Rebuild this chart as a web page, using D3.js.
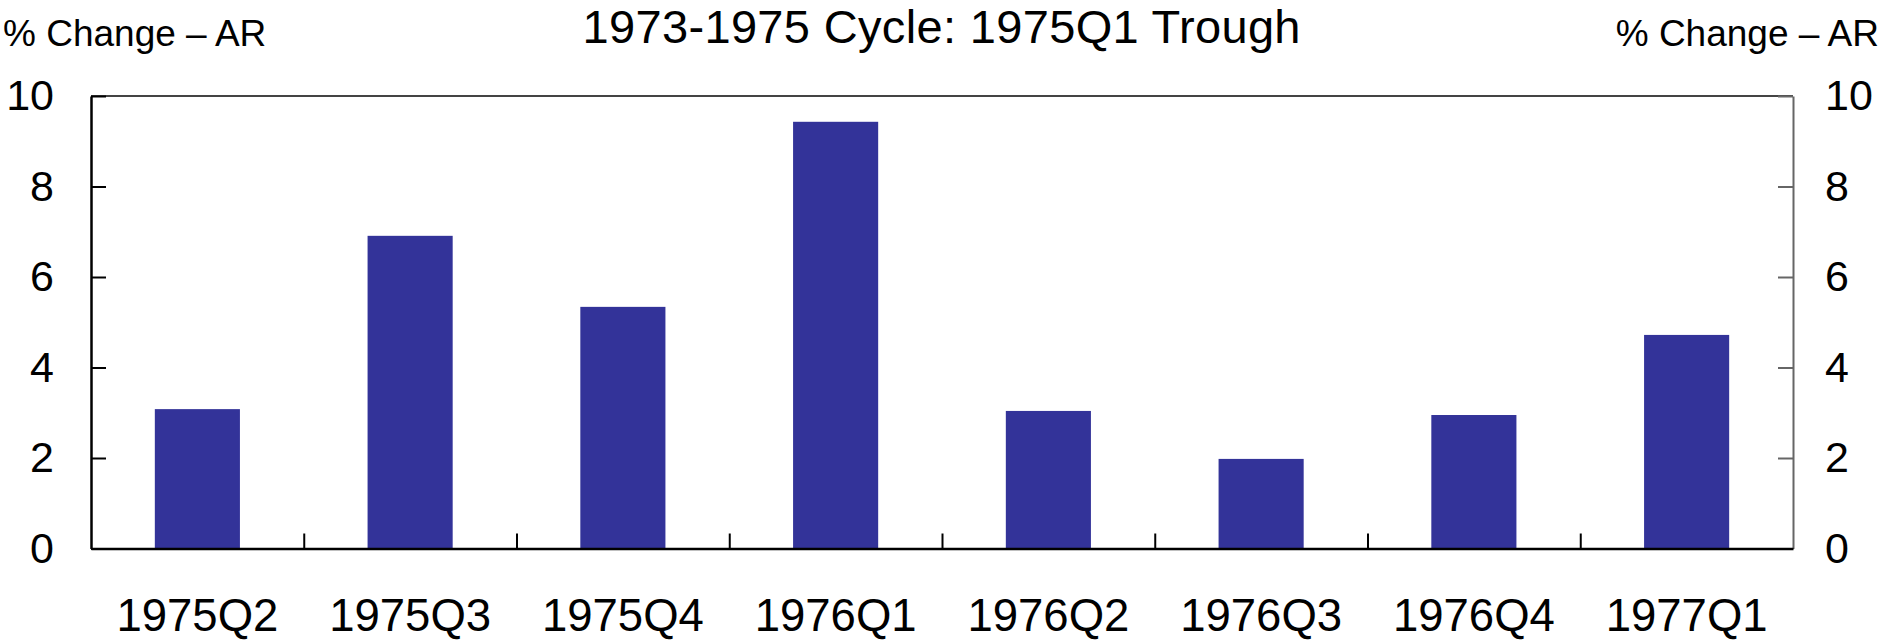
<!DOCTYPE html>
<html lang="en">
  <head>
    <meta charset="UTF-8" />
    <title>1973-1975 Cycle</title>
    <script src="https://d3js.org/d3.v7.min.js" charset="utf-8"></script>
    <style>
      body { margin: 0; background: #fff; }
      text { font-family: "Liberation Sans", Arial, sans-serif; fill: #000; }
    </style>
  </head>
  <body>
    <div id="chart"></div>
    <script>
      // data
      const quarters = ["1975Q2", "1975Q3", "1975Q4", "1976Q1", "1976Q2", "1976Q3", "1976Q4", "1977Q1"];
      const growth = [3.08, 6.91, 5.34, 9.43, 3.04, 1.98, 2.95, 4.72];
      const yTicks = [0, 2, 4, 6, 8, 10];

      const width = 1883;
      const height = 641;
      const plotLeft = 91, plotRight = 1793, plotTop = 96, plotBottom = 548.5;

      const svg = d3.select("#chart")
        .append("svg")
        .attr("width", width)
        .attr("height", height);

      const x = d3.scaleBand()
        .domain(quarters)
        .range([plotLeft, plotRight])
        .paddingInner(0.6)
        .paddingOuter(0.3);

      const xEdge = d3.scaleLinear()
        .domain([0, quarters.length])
        .range([plotLeft, plotRight]);

      const y = d3.scaleLinear()
        .domain([0, 10])
        .range([plotBottom, plotTop]);

      // bars
      svg.append("g")
        .selectAll("rect")
        .data(growth)
        .join("rect")
        .attr("x", (d, i) => x(quarters[i]))
        .attr("width", x.bandwidth())
        .attr("y", d => y(d))
        .attr("height", d => y(0) - y(d))
        .attr("fill", "#333399");

      // top frame line
      svg.append("line")
        .attr("x1", plotLeft).attr("x2", plotRight)
        .attr("y1", plotTop).attr("y2", plotTop)
        .attr("stroke", "#444")
        .attr("stroke-width", 2);

      // right axis (grey)
      const rAxis = svg.append("g")
        .attr("transform", `translate(${plotRight},0)`)
        .call(d3.axisRight(y).tickValues(yTicks).tickSizeInner(-15).tickSizeOuter(0).tickPadding(32));
      rAxis.select(".domain").attr("stroke", "#666").attr("stroke-width", 2);
      rAxis.selectAll(".tick line").attr("stroke", "#666").attr("stroke-width", 2);
      rAxis.selectAll("text").attr("font-size", 43).attr("fill", "#000");

      // bottom axis: boundary ticks
      const bAxis = svg.append("g")
        .attr("transform", `translate(0,${plotBottom})`)
        .call(d3.axisBottom(xEdge).tickValues(d3.range(1, quarters.length)).tickSizeInner(-15).tickSizeOuter(0).tickFormat(""));
      bAxis.select(".domain").attr("stroke", "#000").attr("stroke-width", 2.5);
      bAxis.selectAll(".tick line").attr("stroke", "#000").attr("stroke-width", 2);

      // category labels
      const cAxis = svg.append("g")
        .attr("transform", `translate(0,${plotBottom})`)
        .call(d3.axisBottom(x).tickSize(0).tickPadding(50));
      cAxis.select(".domain").remove();
      cAxis.selectAll("text").attr("font-size", 45.5).attr("fill", "#000");

      // left axis
      const lAxis = svg.append("g")
        .attr("transform", `translate(${plotLeft},0)`)
        .call(d3.axisLeft(y).tickValues(yTicks).tickSizeInner(-15).tickSizeOuter(0).tickPadding(37));
      lAxis.select(".domain").attr("stroke", "#000").attr("stroke-width", 2.5);
      lAxis.selectAll(".tick line").attr("stroke", "#000").attr("stroke-width", 2);
      lAxis.selectAll("text").attr("font-size", 43).attr("fill", "#000");

      // titles
      svg.append("text")
        .attr("x", width / 2)
        .attr("y", 43)
        .attr("text-anchor", "middle")
        .attr("font-size", 47)
        .attr("textLength", 718)
        .text("1973-1975 Cycle: 1975Q1 Trough");

      svg.append("text")
        .attr("x", 3)
        .attr("y", 46)
        .attr("font-size", 37)
        .text("% Change – AR");

      svg.append("text")
        .attr("x", 1879)
        .attr("y", 46)
        .attr("text-anchor", "end")
        .attr("font-size", 37)
        .text("% Change – AR");
    </script>
  </body>
</html>
